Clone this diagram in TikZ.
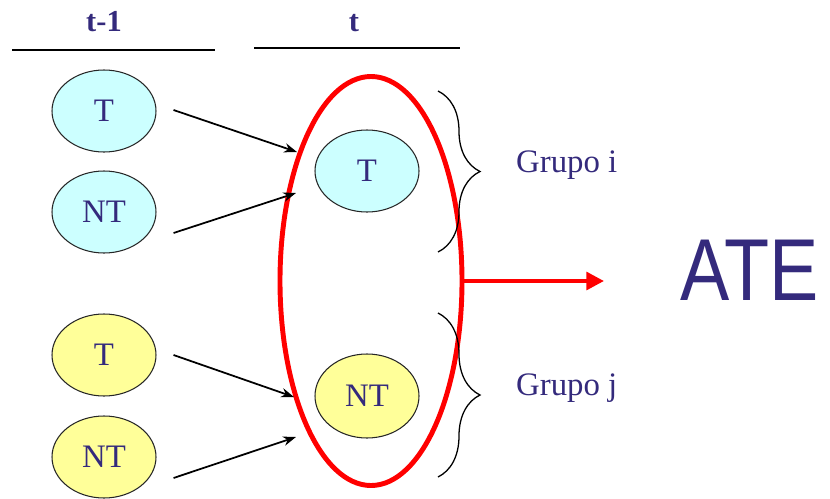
\documentclass[tikz,border=0pt]{standalone}
\usepackage{fontspec}
\setmainfont{Liberation Serif}
\newfontfamily\atefont{Liberation Sans}
\usepackage{tikz}
\usetikzlibrary{shapes.geometric,arrows.meta,decorations.pathreplacing}

\definecolor{txtblue}{RGB}{52,42,124}
\definecolor{cyanfill}{RGB}{204,255,255}
\definecolor{yellowfill}{RGB}{255,255,153}

\begin{document}
\begin{tikzpicture}[x=0.03cm, y=-0.03cm,
  every node/.style={font=\fontsize{28}{32}\selectfont, text=txtblue},
  state/.style={ellipse, draw=black!85, line width=0.9pt, inner sep=0pt,
    minimum width=3.12cm, minimum height=2.46cm},
  flow/.style={line width=1.5pt, -{Stealth[length=11pt,width=8pt]}},
  grpbrace/.style={decorate, decoration={brace, amplitude=1.26cm}, line width=1.1pt}]
\useasboundingbox (0,0) rectangle (830,499);

% Headers
\node[anchor=base, font=\fontsize{26}{30}\selectfont\bfseries] (hprev) at (104,31) {t-1};
\node[anchor=base, font=\fontsize{26}{30}\selectfont\bfseries] (hnow) at (354,31) {t};
\draw[line width=1.5pt] (12,50) -- (215,50);
\draw[line width=1.5pt] (254,48) -- (460,48);

% States at t-1
\node[state, fill=cyanfill] (cT) at (104,111) {T};
\node[state, fill=cyanfill] (cNT) at (104,212) {NT};
\node[state, fill=yellowfill] (yT) at (104,355) {T};
\node[state, fill=yellowfill] (yNT) at (104,457) {NT};

% States at t
\node[state, fill=cyanfill] (nT) at (367,171) {T};
\node[state, fill=yellowfill, minimum height=2.52cm] (nNT) at (367,396) {NT};

% Group ellipse
\node[ellipse, draw=red, line width=4.2pt, minimum width=5.46cm, minimum height=12.27cm] (grupo) at (371,281) {};

% Transitions
\coordinate (in1) at (297,152);
\coordinate (in2) at (296,193);
\coordinate (in3) at (294,397);
\coordinate (in4) at (296,437);
\draw[flow] ([shift={(17,-1)}]cT.east) -- (in1);
\draw[flow] ([shift={(17,21)}]cNT.east) -- (in2);
\draw[flow] ([shift={(17,0)}]yT.east) -- (in3);
\draw[flow] ([shift={(17,21)}]yNT.east) -- (in4);

% Braces
\coordinate (bi1) at (438,91);
\coordinate (bi2) at (438,252);
\coordinate (bj1) at (438,313);
\coordinate (bj2) at (438,477);
\draw[grpbrace] (bi1) -- (bi2);
\draw[grpbrace] (bj1) -- (bj2);
\node[anchor=base west] (gi) at (512,172) {Grupo i};
\node[anchor=base west] (gj) at (512,395) {Grupo j};

% Result
\coordinate (atetip) at (604,281);
\draw[red, line width=3.4pt, -{Triangle[length=15pt,width=15pt]}] (grupo.east) -- (atetip);
\node[anchor=base west, inner sep=0pt, font=\atefont\fontsize{75}{80}\selectfont] (ate) at (680,300) {\scalebox{0.84}[1]{ATE}};
\end{tikzpicture}
\end{document}
